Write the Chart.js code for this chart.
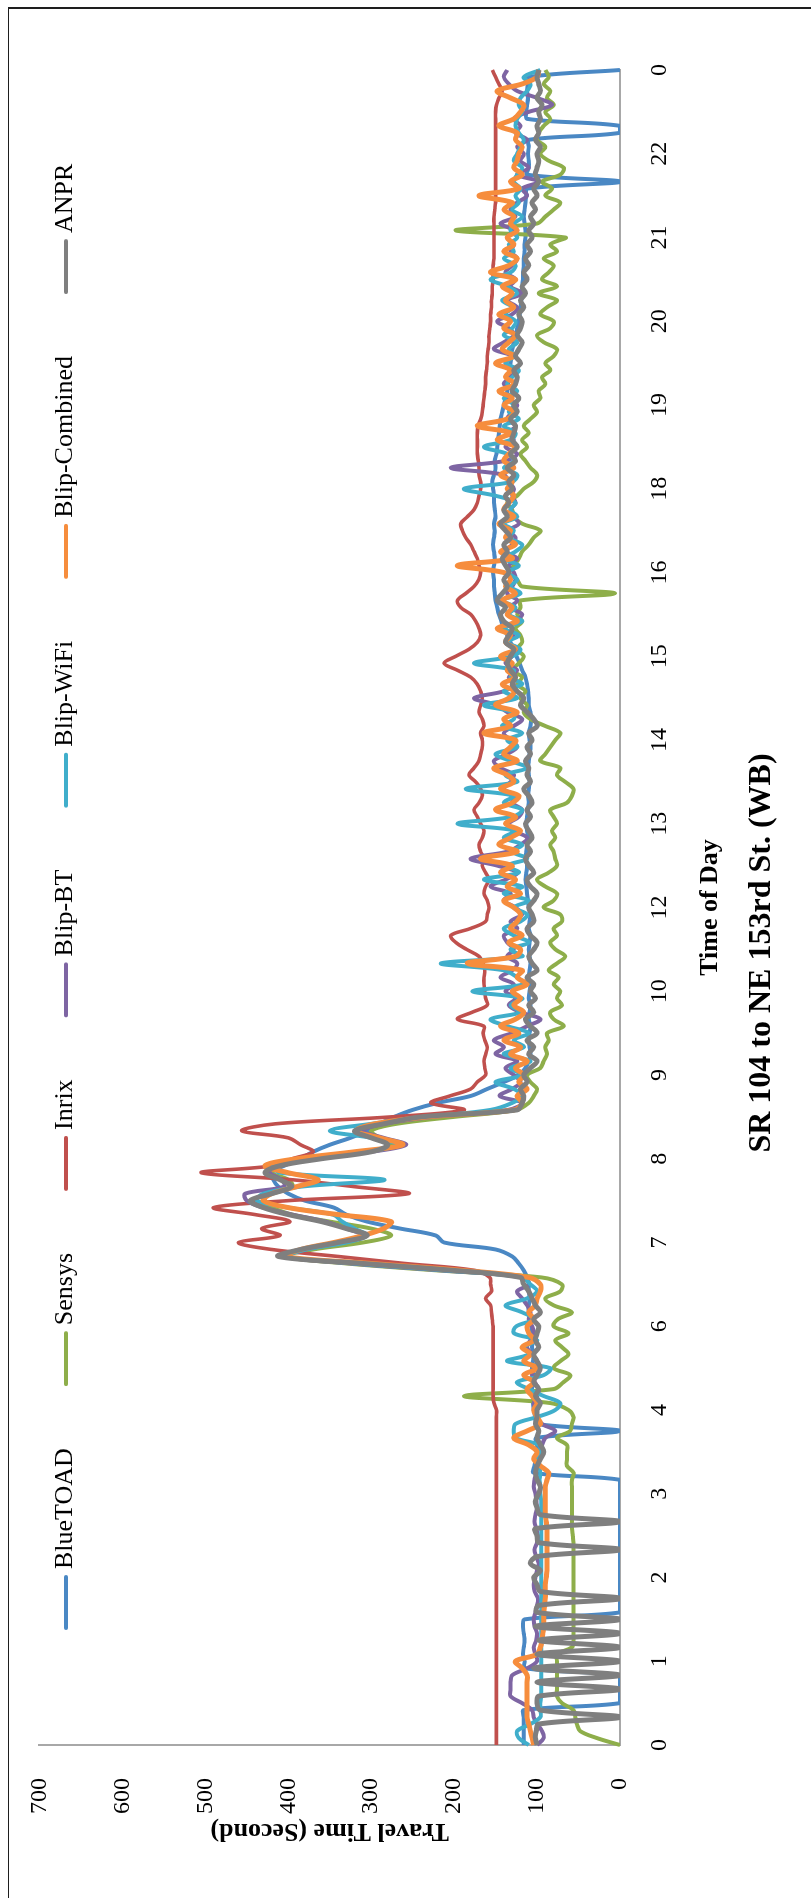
<!DOCTYPE html>
<html>
<head>
<meta charset="utf-8">
<script src="https://cdn.jsdelivr.net/npm/chart.js@4.4.1/dist/chart.umd.min.js"></script>
<style>
  html, body { margin: 0; padding: 0; background: #fff; }
  body { width: 811px; height: 1898px; overflow: hidden; position: relative; }
  #frame {
    position: absolute; left: 8px; top: 7px; width: 900px; height: 2000px;
    border-top: 2px solid #1e1e1e; border-left: 1.5px solid #1e1e1e;
  }
  /* chart is laid out landscape and turned a quarter turn counter-clockwise */
  #wrap {
    position: absolute; left: 0; top: 1898px; width: 1898px; height: 811px;
    transform-origin: 0 0; transform: rotate(-90deg);
  }
</style>
</head>
<body>
<div id="wrap"><canvas id="travelChart" width="1898" height="811"></canvas></div>
<div id="frame"></div>
<script>
const chartTitle = 'SR 104 to NE 153rd St. (WB)';
const xTitle = 'Time of Day';
const yTitle = 'Travel Time (Second)';

// hour labels under the time axis, one every 12 samples
const hourTicks = ['0','1','2','3','4','6','7','8','9','10','12','13','14','15','16','18','19','20','21','22','0'];
const STEPS = 12;

const seriesNames = ['BlueTOAD', 'Sensys', 'Inrix', 'Blip-BT', 'Blip-WiFi', 'Blip-Combined', 'ANPR'];

const blueToad = [
  116,116,116,116,116,116,0,0,0,0,0,115,
  115,117,116,115,116,117,115,0,0,0,0,0,
  0,0,0,0,0,0,0,0,0,0,0,0,
  0,0,0,104,103,101,100,100,101,0,100,102,
  104,105,104,106,105,104,106,105,104,106,105,106,
  107,108,110,110,109,110,110,112,116,122,130,150,
  212,222,265,305,330,345,380,400,412,418,420,405,
  385,370,350,325,305,290,272,250,220,180,160,140,
  122,114,110,108,109,110,109,108,110,109,108,110,
  109,108,110,109,108,109,110,109,108,110,109,108,
  110,111,112,113,114,113,112,114,113,112,111,112,
  113,112,111,110,111,110,109,110,111,110,109,108,
  109,110,108,107,108,110,110,111,112,114,118,121,
  125,128,132,136,140,143,146,148,150,151,152,152,
  153,152,151,152,153,152,151,152,150,151,152,152,
  153,154,152,150,151,149,148,147,146,145,144,142,
  140,138,136,135,134,133,132,131,130,128,126,124,
  122,121,120,119,118,118,117,117,116,116,115,115,
  114,114,115,116,115,114,113,112,0,112,110,110,
  111,110,110,0,0,112,113,112,111,112,111,110,
  0
];

const sensys = [
  0,28,48,52,54,56,70,76,76,76,76,76,
  76,76,58,56,56,56,56,56,56,56,56,56,
  56,56,56,56,56,56,57,58,58,58,58,58,
  58,58,58,56,64,64,64,64,76,60,58,56,
  62,84,188,80,68,60,80,72,62,70,78,62,
  80,75,58,80,90,72,70,95,220,330,405,370,
  310,276,300,350,395,420,440,425,395,400,420,410,
  375,305,275,290,300,270,200,125,110,104,100,108,
  112,96,92,88,90,86,88,68,80,84,70,76,
  72,80,74,86,76,66,78,84,76,80,70,72,
  92,80,76,90,100,86,76,78,80,84,78,82,
  76,80,84,64,58,56,66,76,72,96,90,84,
  78,72,90,108,116,112,120,114,124,118,130,122,
  116,124,118,120,126,118,124,120,120,6,118,124,
  134,128,122,118,110,104,96,118,128,130,136,124,
  116,104,100,108,114,120,112,118,110,116,108,100,
  104,96,98,90,94,84,90,80,76,92,100,84,
  80,96,88,76,98,76,94,86,80,92,76,84,
  66,198,100,90,80,72,90,82,94,72,68,86,
  96,90,100,98,92,84,90,80,88,84,92,86,
  90
];

const inrix = [
  149,149,149,149,149,149,149,149,149,149,149,149,
  149,149,149,149,149,149,149,149,149,149,149,149,
  149,149,149,149,149,149,149,149,149,149,149,149,
  149,149,149,149,149,149,149,149,149,149,149,149,
  149,152,153,153,153,153,153,153,153,153,153,153,
  153,154,155,156,162,155,156,157,175,260,340,420,
  460,410,432,398,440,490,400,255,320,396,505,418,
  395,370,385,400,456,416,276,188,228,205,180,172,
  162,163,164,162,160,163,165,164,196,178,160,162,
  163,164,164,163,165,170,185,198,204,180,162,160,
  158,160,164,162,158,162,166,164,168,170,166,164,
  168,172,176,170,166,168,174,182,176,170,168,166,
  166,168,164,166,170,168,166,168,172,180,196,212,
  198,182,172,168,170,174,180,192,196,186,176,170,
  168,170,172,176,180,186,190,192,184,176,172,170,
  168,168,170,170,171,172,172,172,172,171,168,166,
  165,164,163,162,162,161,160,160,159,158,158,157,
  156,156,155,155,154,154,153,153,153,152,152,152,
  152,152,152,152,151,150,150,150,150,150,150,150,
  150,150,150,150,150,150,150,149,146,142,146,150,
  154
];

const blipBT = [
  100,92,94,100,104,106,118,132,132,132,130,112,
  100,102,104,101,100,103,104,102,100,99,103,104,
  102,100,98,101,103,100,99,101,103,102,100,101,
  102,104,103,101,100,98,96,94,90,78,94,100,
  102,104,100,98,103,106,104,100,106,112,108,104,
  106,110,108,112,118,124,110,115,215,325,405,380,
  335,310,330,355,395,430,450,452,405,408,422,415,
  375,300,258,285,310,285,225,135,118,145,130,120,
  128,138,124,150,140,152,130,112,96,120,134,126,
  138,128,144,130,124,136,128,136,140,124,132,118,
  126,140,132,156,138,124,148,180,136,120,112,128,
  134,122,118,130,126,140,132,128,144,152,136,124,
  132,140,128,118,136,148,176,140,128,134,124,138,
  130,122,136,128,140,126,118,132,124,136,130,126,
  128,134,124,138,130,126,134,122,128,132,126,130,
  128,134,140,204,138,124,138,128,134,126,136,130,
  124,136,128,140,132,126,138,130,152,140,128,134,
  148,130,124,136,118,132,126,138,130,124,132,128,
  136,128,144,126,132,124,112,118,98,124,110,120,
  116,124,112,126,120,128,110,82,100,124,134,140,
  136
];

const blipWiFi = [
  110,122,124,108,96,96,96,95,95,95,95,95,
  95,95,95,95,95,95,95,95,95,95,95,95,
  95,95,95,95,95,95,95,95,95,95,95,95,
  96,96,97,96,98,100,96,98,126,128,126,100,
  78,72,92,110,124,92,84,136,110,116,100,128,
  125,104,118,138,112,100,108,118,210,320,402,378,
  330,305,320,335,346,400,438,430,385,284,410,418,
  378,305,268,300,350,300,232,156,130,118,128,150,
  118,132,108,140,116,128,110,136,156,120,132,118,
  178,116,124,140,216,118,132,110,128,140,120,112,
  128,110,140,118,164,122,136,112,130,118,140,126,
  196,130,118,140,128,186,124,138,112,132,150,124,
  136,118,142,128,130,164,124,140,118,132,128,176,
  130,120,136,122,140,118,134,126,142,120,132,124,
  136,122,140,126,118,134,128,140,124,132,126,150,
  188,130,124,140,128,136,164,132,126,140,122,134,
  128,140,124,136,130,122,138,128,134,124,140,130,
  126,138,130,142,124,136,156,132,126,140,128,134,
  124,132,128,118,130,122,126,120,128,124,118,128,
  124,120,116,122,126,124,118,122,120,112,108,116,
  96
];

const blipCombined = [
  104,106,108,110,112,112,112,112,112,112,112,118,
  126,100,96,94,93,92,92,92,91,90,90,90,
  89,88,88,88,88,88,88,88,89,90,90,90,
  90,90,88,86,96,104,100,110,128,112,96,100,
  104,100,106,112,104,116,100,116,108,118,104,110,
  112,104,110,102,100,96,96,110,190,300,404,385,
  345,310,285,276,340,400,430,420,390,364,400,428,
  390,320,262,290,318,296,232,128,118,124,112,122,
  116,126,112,132,120,140,122,144,126,116,128,120,
  130,112,124,118,184,126,120,134,118,132,124,120,
  128,140,120,136,126,144,130,168,124,146,132,120,
  138,126,150,130,122,144,128,136,152,124,140,132,
  126,164,132,140,124,150,134,128,142,126,136,130,
  144,126,138,132,148,124,136,130,142,126,138,132,
  140,196,130,144,126,138,132,146,128,140,134,128,
  136,130,144,128,140,134,126,148,132,172,136,128,
  140,130,146,126,138,132,150,128,142,134,126,140,
  132,146,128,138,130,142,126,156,134,124,140,128,
  136,124,132,128,140,130,170,122,132,118,128,124,
  122,118,126,124,146,128,120,116,132,148,118,100,
  98
];

const anpr = [
  100,102,101,98,0,96,100,98,0,100,0,104,
  0,100,0,98,0,102,0,100,98,0,96,100,
  104,96,108,100,0,98,100,102,0,96,100,102,
  98,96,100,102,100,96,92,96,100,98,102,100,
  100,96,102,98,104,100,96,100,104,98,102,100,
  98,104,96,102,106,110,116,120,200,310,412,385,
  340,305,330,360,400,430,446,420,396,410,428,410,
  360,300,280,300,320,285,240,124,118,116,120,112,
  116,108,100,110,104,112,100,108,114,104,110,102,
  108,104,112,100,106,110,104,100,108,112,104,106,
  110,104,100,108,112,104,110,114,108,112,106,110,
  114,108,112,106,110,116,108,112,110,114,108,112,
  106,110,100,104,112,120,116,124,130,126,132,136,
  132,128,138,134,130,140,144,138,148,142,136,140,
  134,138,142,136,140,132,138,144,136,140,134,138,
  130,134,128,136,126,132,124,130,128,126,132,124,
  128,122,130,126,124,128,120,126,122,118,124,120,
  118,122,116,120,114,118,112,116,110,114,108,112,
  106,110,104,108,102,106,100,104,98,102,100,98,
  100,96,102,98,100,96,98,94,100,96,98,100,
  98
];

const seriesValues = [blueToad, sensys, inrix, blipBT, blipWiFi, blipCombined, anpr];
const seriesColors = ['#4A88C4', '#8EAE4A', '#C0504D', '#7E65A3', '#40AECB', '#F68D3D', '#7F7F7F'];
const seriesWidths = [4, 4, 3.6, 4, 4, 5, 5];

// one slot per sample, labelled only on the hour ticks
const slots = [];
for (let i = 0; i < hourTicks.length - 1; i++) {
  slots.push(hourTicks[i]);
  for (let s = 1; s < STEPS; s++) slots.push('');
}
slots.push(hourTicks[hourTicks.length - 1]);

const serif = '"Liberation Serif", "Times New Roman", serif';

// legend row across the top of the plot, drawn over the plot area
const topLegend = {
  id: 'topLegend',
  afterDraw(chart) {
    const ctx = chart.ctx;
    ctx.save();
    ctx.font = '26px ' + serif;
    ctx.textBaseline = 'middle';
    ctx.textAlign = 'left';
    ctx.lineCap = 'round';
    let x = 270;
    chart.data.datasets.forEach(ds => {
      ctx.strokeStyle = ds.borderColor;
      ctx.lineWidth = 4;
      ctx.beginPath();
      ctx.moveTo(x, 66);
      ctx.lineTo(x + 51, 66);
      ctx.stroke();
      ctx.fillStyle = '#000';
      ctx.fillText(ds.label, x + 59, 65);
      x += 51 + 8 + ctx.measureText(ds.label).width + 64;
    });
    ctx.restore();
  }
};

// chart title, centred on the whole figure below the time axis title
const bottomCaption = {
  id: 'bottomCaption',
  afterDraw(chart) {
    const ctx = chart.ctx;
    ctx.save();
    ctx.font = 'bold 32px ' + serif;
    ctx.fillStyle = '#000';
    ctx.textAlign = 'center';
    ctx.textBaseline = 'middle';
    ctx.fillText(chartTitle, 945, 762);
    ctx.restore();
  }
};

new Chart(document.getElementById('travelChart'), {
  type: 'line',
  data: {
    labels: slots,
    datasets: seriesNames.map((name, i) => ({
      label: name,
      data: seriesValues[i],
      borderColor: seriesColors[i],
      backgroundColor: seriesColors[i],
      borderWidth: seriesWidths[i],
      pointRadius: 0,
      tension: 0.35,
      fill: false,
      order: seriesNames.length - 1 - i,
    })),
  },
  options: {
    responsive: false,
    animation: false,
    devicePixelRatio: 1,
    layout: { padding: { left: 0, right: 70, top: 37, bottom: 0 } },
    plugins: {
      legend: { display: false },
      title: { display: false },
      tooltip: { enabled: false },
    },
    scales: {
      x: {
        type: 'category',
        grid: { display: false },
        border: { display: true, color: '#A8A8A8', width: 2 },
        ticks: {
          autoSkip: false, maxRotation: 0, minRotation: 0, padding: 17,
          color: '#000', font: { family: serif, size: 24 },
        },
        title: {
          display: true, text: xTitle, color: '#000',
          font: { family: serif, size: 26, weight: 'bold' },
          padding: { top: 0, bottom: 85 },
        },
        afterFit(scale) { scale.height = 191; },
      },
      y: {
        min: 0,
        max: 700,
        grid: { display: false },
        border: { display: true, color: '#A8A8A8', width: 2 },
        ticks: {
          stepSize: 100, padding: 25,
          color: '#000', font: { family: serif, size: 24 },
        },
        title: {
          display: true, text: yTitle, color: '#000',
          font: { family: serif, size: 26, weight: 'bold' },
          padding: { top: 52, bottom: 0 },
        },
        afterFit(scale) { scale.width = 153; },
      },
    },
  },
  plugins: [topLegend, bottomCaption],
});
</script>
</body>
</html>
